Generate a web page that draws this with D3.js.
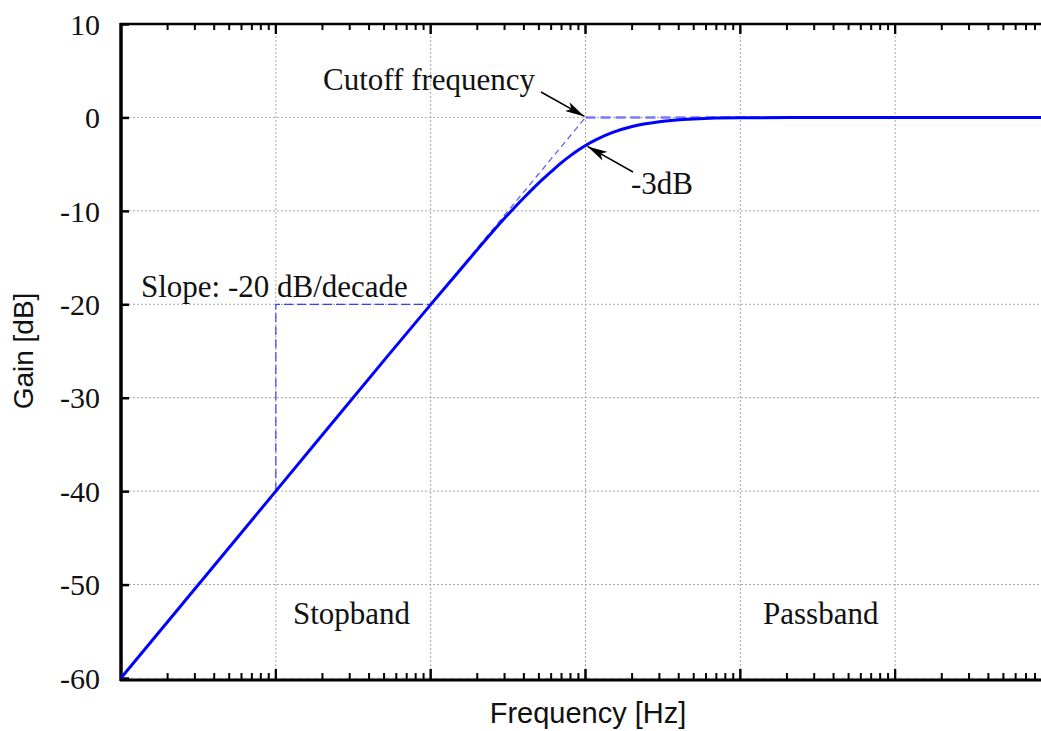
<!DOCTYPE html>
<html>
<head>
<meta charset="utf-8">
<script src="https://cdn.jsdelivr.net/npm/d3@7"></script>
<style>
  body { margin: 0; background: #fff; }
  svg { display: block; }
</style>
</head>
<body>
<svg id="chart" width="1041" height="731"></svg>
<script>
// values
let freq = [1, 10, 50, 100, 150, 200, 300, 400, 500, 600, 700, 800, 900, 1000, 1200, 1500, 2000, 3000, 5000, 10000, 100000, 1000000]
let gain = [-60, -40, -26.0, -20.04, -16.6, -14.15, -10.8, -8.6, -7.0, -5.8, -4.83, -4.09, -3.49, -3.0, -2.29, -1.6, -0.97, -0.46, -0.17, -0.04, 0, 0]

let asymFreq = [1, 1000, 1000000]
let asymGain = [-60, 0, 0]

let slopeFreq = [10, 10, 100]
let slopeGain = [-40, -20, -20]

let yTicks = [10, 0, -10, -20, -30, -40, -50, -60]
let decades = [1, 10, 100, 1000, 10000, 100000, 1000000]

let svg = d3.select("#chart")

let mLeft = 121, mTop = 24, mBottom = 679, mRight = 1050

let x = d3.scaleLog().domain([1, 1000000]).range([mLeft, mRight])
let y = d3.scaleLinear().domain([-60, 10]).range([mBottom - 1, mTop])

/* grid */
let grid = svg.append("g")
grid.selectAll(".gy")
    .data(yTicks.filter(d => d < 10))
    .enter().append("line")
    .attr("x1", mLeft).attr("x2", mRight)
    .attr("y1", d => y(d)).attr("y2", d => y(d))
    .attr("stroke", d => d == -60 ? "#d8d8d8" : "#a8a8a8")
    .attr("stroke-width", 1)
    .attr("stroke-dasharray", d => d == -60 ? "5,3" : "2,2")
grid.selectAll(".gx")
    .data(decades.slice(1))
    .enter().append("line")
    .attr("x1", d => x(d)).attr("x2", d => x(d))
    .attr("y1", mTop).attr("y2", mBottom)
    .attr("stroke", "#a8a8a8")
    .attr("stroke-width", 1)
    .attr("stroke-dasharray", "2,2")

/* minor + major ticks on x, bottom and top */
let xTicks = []
decades.slice(0, -1).forEach(function(d){
    for (let k = 1; k <= 10; k++) xTicks.push({v: d * k, major: k == 1 || k == 10})
})
let tickG = svg.append("g").attr("stroke", "#000").attr("stroke-width", 2)
tickG.selectAll(".tb")
    .data(xTicks)
    .enter().append("line")
    .attr("x1", d => x(d.v)).attr("x2", d => x(d.v))
    .attr("y1", mBottom).attr("y2", d => mBottom - (d.major ? 10 : 6))
tickG.selectAll(".tt")
    .data(xTicks)
    .enter().append("line")
    .attr("x1", d => x(d.v)).attr("x2", d => x(d.v))
    .attr("y1", mTop).attr("y2", d => mTop + (d.major ? 10 : 6))

/* y axis */
let yAxis = svg.append("g")
    .attr("transform", `translate(${mLeft},0)`)
    .call(d3.axisLeft(y).tickValues(yTicks).tickSize(-8).tickPadding(21).tickFormat(d3.format("d")))
yAxis.select(".domain").remove()
yAxis.selectAll(".tick line").attr("stroke-width", 2.5)
yAxis.selectAll(".tick text")
     .attr("font-family", "'Liberation Serif', serif")
     .attr("font-size", 30)
     .attr("fill", "#111")
     .attr("dy", "0.34em")
     .text(d => d < 0 ? "-" + Math.abs(d) : d)

/* frame */
svg.append("line").attr("x1", mLeft).attr("x2", mLeft).attr("y1", mTop - 1).attr("y2", mBottom + 2)
   .attr("stroke", "#000").attr("stroke-width", 3.5)
svg.append("line").attr("x1", mLeft - 1).attr("x2", mRight).attr("y1", mBottom + 1).attr("y2", mBottom + 1)
   .attr("stroke", "#000").attr("stroke-width", 3)
svg.append("line").attr("x1", mLeft - 1).attr("x2", mRight).attr("y1", mTop).attr("y2", mTop)
   .attr("stroke", "#000").attr("stroke-width", 2.5)

/* slope helper */
let line = d3.line()
let slopePts = slopeFreq.map((f, i) => [x(f), y(slopeGain[i])])
svg.append("path").attr("d", line(slopePts))
   .attr("fill", "none").attr("stroke", "#3b3bff").attr("stroke-width", 1.2)
   .attr("stroke-dasharray", "9,4")

/* asymptotes */
let asymPts = asymFreq.map((f, i) => [x(f), y(asymGain[i])])
svg.append("path").attr("d", line(asymPts.slice(0, 2)))
   .attr("fill", "none").attr("stroke", "#5a5aff").attr("stroke-width", 1.2)
   .attr("stroke-dasharray", "6,4")
svg.append("path").attr("d", line(asymPts.slice(1)))
   .attr("fill", "none").attr("stroke", "#7a7aff").attr("stroke-width", 2.5)
   .attr("stroke-dasharray", "10,5")

/* response curve */
let curve = d3.line()
    .x((d, i) => x(freq[i]))
    .y(d => y(d))
    .curve(d3.curveMonotoneX)
svg.append("path").attr("d", curve(gain))
   .attr("fill", "none").attr("stroke", "#0000ff").attr("stroke-width", 3)

/* arrows */
svg.append("defs").append("marker")
   .attr("id", "head").attr("viewBox", "0 0 20 10")
   .attr("refX", 20).attr("refY", 5)
   .attr("markerWidth", 20).attr("markerHeight", 10)
   .attr("markerUnits", "userSpaceOnUse")
   .attr("orient", "auto")
   .append("path").attr("d", "M0,0 L20,5 L0,10 L5,5 Z").attr("fill", "#000")

let arrows = [
    {x1: 541, y1: 92, f: 1000, g: 0},
    {x1: 633, y1: 172, f: 1000, g: -3.0}
]
svg.selectAll(".arrow")
   .data(arrows)
   .enter().append("line")
   .attr("x1", d => d.x1).attr("y1", d => d.y1)
   .attr("x2", d => x(d.f) + (d.g == 0 ? -1 : 2)).attr("y2", d => y(d.g) + (d.g == 0 ? -1 : 1))
   .attr("stroke", "#000").attr("stroke-width", 1.5)
   .attr("marker-end", "url(#head)")

/* annotations */
let notes = [
    {t: "Cutoff frequency", x: 323, y: 90},
    {t: "-3dB", x: 631, y: 194},
    {t: "Slope: -20 dB/decade", x: 141, y: 297},
    {t: "Stopband", x: 293, y: 624},
    {t: "Passband", x: 763, y: 624}
]
svg.selectAll(".note")
   .data(notes)
   .enter().append("text")
   .attr("x", d => d.x).attr("y", d => d.y)
   .attr("font-family", "'Liberation Serif', serif")
   .attr("font-size", 31)
   .attr("fill", "#111")
   .text(d => d.t)

/* axis titles */
svg.append("text")
   .attr("x", 588).attr("y", 723)
   .attr("text-anchor", "middle")
   .attr("font-family", "'Liberation Sans', sans-serif")
   .attr("font-size", 29)
   .attr("fill", "#111")
   .text("Frequency [Hz]")
svg.append("text")
   .attr("transform", "translate(33,351) rotate(-90)")
   .attr("text-anchor", "middle")
   .attr("font-family", "'Liberation Sans', sans-serif")
   .attr("font-size", 28)
   .attr("fill", "#111")
   .text("Gain [dB]")
</script>
</body>
</html>
